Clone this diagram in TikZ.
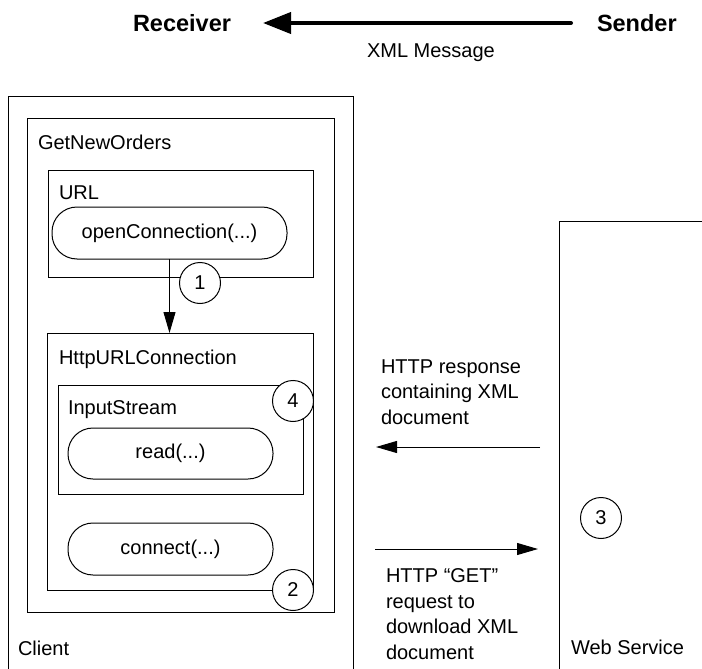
\documentclass[tikz,border=0pt]{standalone}
\usepackage{fontspec}
\setmainfont{Liberation Sans}
\usetikzlibrary{arrows.meta}
\begin{document}
\begin{tikzpicture}[x=1pt,y=-1pt, line width=1pt,
  every node/.style={inner sep=0pt, outer sep=0pt, font=\fontsize{20}{25.5}\selectfont},
  box/.style={draw, rectangle, anchor=north west},
  pill/.style={draw, rectangle, rounded corners=25pt, anchor=north west},
  num/.style={draw, circle, fill=white, minimum size=41pt},
  lbl/.style={anchor=base west},
  multi/.style={anchor=north west, align=left},
  head/.style={anchor=base west, font=\fontsize{23.5}{28}\selectfont\bfseries},
  flow/.style={-{Triangle[length=21pt,width=12pt]}},
  bigflow/.style={line width=4pt, line cap=round, -{Triangle[length=28pt,width=21pt]}}
]
\useasboundingbox (0,0) rectangle (702,669);

% header
\node[head] (recv) at (133,32) {Receiver};
\node[head] (send) at (597,32) {Sender};
\node[lbl] (xmlmsg) at (367,58) {XML Message};
\coordinate (hdA) at (571,23);
\coordinate (hdB) at (263,23);
\draw[bigflow] (hdA) -- (hdB);

% client outer frame (open at bottom)
\draw (8,669) -- (8,97) -- (353,97) -- (353,669);
\node[lbl] (client) at (18,655) {Client};

% GetNewOrders
\node[box, minimum width=307pt, minimum height=494pt] (gno) at (27,118) {};
\node[lbl] (gnoT) at (38,149) {GetNewOrders};

% URL
\node[box, minimum width=265pt, minimum height=107pt] (url) at (48,170) {};
\node[lbl] (urlT) at (59,199) {URL};
\node[pill, minimum width=235pt, minimum height=52pt] (oc) at (52,207) {openConnection(...)};

% HttpURLConnection
\node[box, minimum width=266pt, minimum height=257pt] (http) at (47,333) {};
\node[lbl] (httpT) at (59,364) {HttpURLConnection};

% InputStream
\node[box, minimum width=245pt, minimum height=109pt] (ins) at (58,385) {};
\node[lbl] (insT) at (68,414) {InputStream};
\node[pill, minimum width=205pt, minimum height=51pt] (rd) at (68,428) {read(...)};

\node[pill, minimum width=205pt, minimum height=52pt] (cn) at (68,523) {connect(...)};

% arrow 1
\draw[flow] (oc.south) -- (oc.south |- http.north);

% numbered circles
\node[num] (c1) at (200,283) {1};
\node[num] (c4) at (293,401) {4};
\node[num] (c2) at (293,590) {2};

% Web Service frame
\draw (559,669) -- (559,221) -- (702,221);
\node[lbl] (ws) at (571,654) {Web Service};
\node[num] (c3) at (601,518) {3};

% messages
\node[multi] (resp) at (381,359.7) {HTTP response\\containing XML\\document};
\coordinate (respA) at (540,447);
\coordinate (respB) at (376,447);
\draw[flow] (respA) -- (respB);

\coordinate (getA) at (375,549);
\coordinate (getB) at (538,549);
\draw[flow] (getA) -- (getB);
\node[multi] (get) at (386,568.7) {HTTP “GET”\\request to\\download XML\\document};
\end{tikzpicture}
\end{document}
